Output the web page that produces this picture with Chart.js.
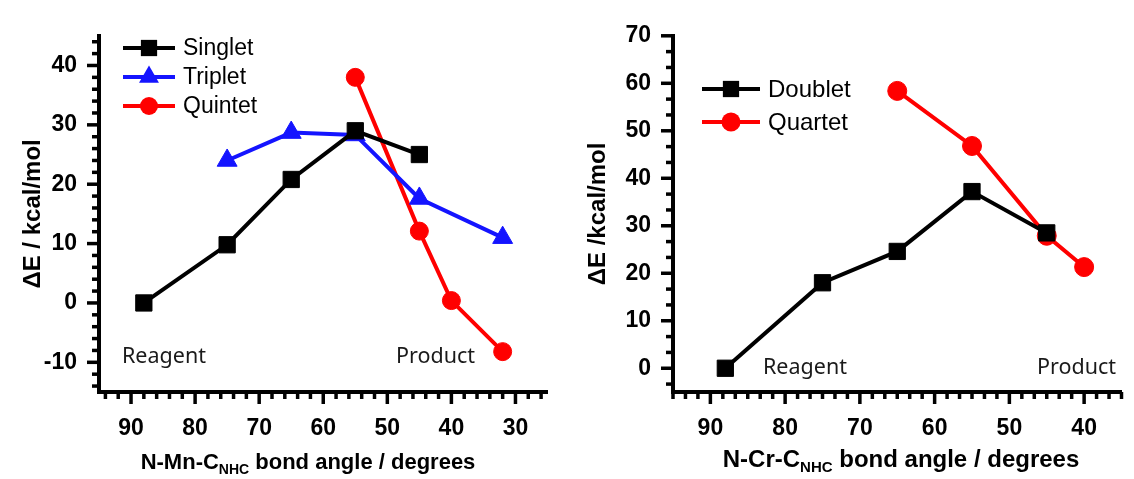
<!DOCTYPE html>
<html>
<head>
<meta charset="utf-8">
<script src="https://cdn.jsdelivr.net/npm/chart.js@4.4.0/dist/chart.umd.min.js"></script>
<style>
    body { margin: 0; background: #fff; width: 1134px; height: 479px; position: relative; overflow: hidden; font-family: "Liberation Sans", Arial, sans-serif; }
    #wrapL { position: absolute; left: 0; top: 0; width: 560px; height: 479px; }
    #wrapR { position: absolute; left: 560px; top: 0; width: 574px; height: 479px; }
    .xt { position: absolute; font-weight: bold; font-size: 22px; white-space: nowrap; transform: translateX(-50%); color: #000; }
    .xt sub { font-size: 14px; vertical-align: -5px; line-height: 0; }
    .note { position: absolute; font-family: "Noto Sans", sans-serif; font-size: 21.5px; color: #1a1a1a; white-space: nowrap; }
</style>
</head>
<body>
<div id="wrapL"><canvas id="mnChart" width="560" height="479"></canvas></div>
<div id="wrapR"><canvas id="crChart" width="574" height="479"></canvas></div>

<div class="xt" style="left:308px; top:449px;">N-Mn-C<sub>NHC</sub> bond angle / degrees</div>
<div class="xt" style="left:901px; top:445px; font-size:24px;">N-Cr-C<sub style="font-size:15px;">NHC</sub> bond angle / degrees</div>

<div class="note" style="left:122px; top:340px;">Reagent</div>
<div class="note" style="left:396px; top:340px;">Product</div>
<div class="note" style="left:763px; top:351px;">Reagent</div>
<div class="note" style="left:1037px; top:351px;">Product</div>

<script>
// ---------- data : Mn (left panel) ----------
const singletAngle = [88, 75, 65, 55, 45];
const singletE     = [0, 9.8, 20.8, 29.0, 25.0];
const tripletAngle = [75, 65, 55, 45, 32];
const tripletE     = [24.0, 28.7, 28.3, 17.6, 11.0];
const quintetAngle = [55, 45, 40, 32];
const quintetE     = [38.0, 12.1, 0.4, -8.2];

// ---------- data : Cr (right panel) ----------
const doubletAngle = [88, 75, 65, 55, 45];
const doubletE     = [0, 18.0, 24.6, 37.2, 28.5];
const quartetAngle = [65, 55, 45, 40];
const quartetE     = [58.4, 46.8, 27.9, 21.3];

// tick labels
const mnXTicks = [90, 80, 70, 60, 50, 40, 30];
const mnYTicks = [-10, 0, 10, 20, 30, 40];
const crXTicks = [90, 80, 70, 60, 50, 40];
const crYTicks = [0, 10, 20, 30, 40, 50, 60, 70];

function pts(xs, ys) {
    return xs.map((x, i) => ({ x: x, y: ys[i] }));
}

function series(label, xs, ys, color, style, r) {
    return {
        label: label,
        data: pts(xs, ys),
        borderColor: color,
        backgroundColor: color,
        borderWidth: 4,
        pointStyle: style,
        pointRadius: r,
        pointBorderWidth: 1,
        pointBorderColor: color,
        pointBackgroundColor: color,
        tension: 0,
        clip: false
    };
}

function drawMarker(ctx, style, x, y, r, color) {
    ctx.fillStyle = color;
    ctx.beginPath();
    if (style === 'rect') {
        const s = r * Math.SQRT1_2;
        ctx.rect(x - s, y - s, 2 * s, 2 * s);
    } else if (style === 'triangle') {
        ctx.moveTo(x, y - r);
        ctx.lineTo(x + r * Math.sin(2 * Math.PI / 3), y + r * 0.5);
        ctx.lineTo(x - r * Math.sin(2 * Math.PI / 3), y + r * 0.5);
        ctx.closePath();
    } else {
        ctx.arc(x, y, r, 0, Math.PI * 2);
    }
    ctx.fill();
}

// legend drawn inside the plot area
const insideLegend = {
    id: 'insideLegend',
    afterDraw(chart, args, opts) {
        const ctx = chart.ctx;
        ctx.save();
        chart.data.datasets.forEach((ds, i) => {
            const y = opts.y + i * opts.rowGap;
            ctx.strokeStyle = ds.borderColor;
            ctx.lineWidth = 4;
            ctx.beginPath();
            ctx.moveTo(opts.x, y);
            ctx.lineTo(opts.x + opts.lineLen, y);
            ctx.stroke();
            drawMarker(ctx, ds.pointStyle, opts.x + opts.lineLen / 2, y, ds.pointRadius, ds.backgroundColor);
            ctx.fillStyle = '#000';
            ctx.font = opts.font;
            ctx.textBaseline = 'middle';
            ctx.fillText(ds.label, opts.x + opts.lineLen + opts.textGap, y + 1);
        });
        ctx.restore();
    }
};

// major + minor tick marks, outward, taken from the scales
const tickMarks = {
    id: 'tickMarks',
    afterDraw(chart, args, opts) {
        const ctx = chart.ctx;
        const area = chart.chartArea;
        ctx.save();
        ctx.strokeStyle = '#000';
        ctx.lineWidth = 3.5;
        ['x', 'y'].forEach(id => {
            const sc = chart.scales[id];
            const o = opts[id];
            const k0 = Math.ceil(sc.min / o.minor - 1e-6);
            const k1 = Math.floor(sc.max / o.minor + 1e-6);
            for (let k = k0; k <= k1; k++) {
                const v = k * o.minor;
                const isMajor = Math.abs(v / o.major - Math.round(v / o.major)) < 1e-6;
                const len = isMajor ? 12 : 7;
                const p = sc.getPixelForValue(v);
                ctx.beginPath();
                if (id === 'x') {
                    ctx.moveTo(p, area.bottom);
                    ctx.lineTo(p, area.bottom + len);
                } else {
                    ctx.moveTo(area.left, p);
                    ctx.lineTo(area.left - len, p);
                }
                ctx.stroke();
            }
        });
        ctx.restore();
    }
};

function makeOptions(xMin, xMax, yMin, yMax, xTicks, yTicks, yTitle, yWidth, titlePad, pad, legend, minors) {
    return {
        responsive: false,
        animation: false,
        layout: { padding: pad },
        plugins: {
            legend: { display: false },
            tooltip: { enabled: false },
            insideLegend: legend,
            tickMarks: minors
        },
        scales: {
            x: {
                type: 'linear',
                reverse: true,
                min: xMin,
                max: xMax,
                afterFit: s => { s.height = 87; },
                afterBuildTicks: s => { s.ticks = xTicks.map(v => ({ value: v })); },
                grid: { display: false, drawTicks: false },
                border: { display: true, color: '#000', width: 4 },
                ticks: { color: '#000', padding: 23, font: { family: 'Liberation Sans', size: 23, weight: 'bold' } }
            },
            y: {
                type: 'linear',
                min: yMin,
                max: yMax,
                afterFit: s => { s.width = yWidth; },
                afterBuildTicks: s => { s.ticks = yTicks.map(v => ({ value: v })); },
                grid: { display: false, drawTicks: false },
                border: { display: true, color: '#000', width: 4 },
                ticks: { color: '#000', padding: 22, font: { family: 'Liberation Sans', size: 23, weight: 'bold' } },
                title: {
                    display: true,
                    text: yTitle,
                    color: '#000',
                    padding: { top: titlePad, bottom: 0 },
                    font: { family: 'Liberation Sans', size: 24, weight: 'bold' }
                }
            }
        }
    };
}

new Chart(document.getElementById('mnChart'), {
    type: 'line',
    data: {
        datasets: [
            series('Singlet', singletAngle, singletE, '#000000', 'rect', 11.5),
            series('Triplet', tripletAngle, tripletE, '#1414ff', 'triangle', 11.5),
            series('Quintet', quintetAngle, quintetE, '#ff0000', 'circle', 9)
        ]
    },
    options: makeOptions(25, 95, -15, 45, mnXTicks, mnYTicks, 'ΔE / kcal/mol', 99, 19,
        { top: 27, right: 7, bottom: 0, left: 0 },
        { x: 123, y: 48, rowGap: 29, lineLen: 52, textGap: 8, font: '23px "Liberation Sans", Arial' },
        { x: { major: 10, minor: 2 }, y: { major: 10, minor: 2 } }),
    plugins: [insideLegend, tickMarks]
});

new Chart(document.getElementById('crChart'), {
    type: 'line',
    data: {
        datasets: [
            series('Doublet', doubletAngle, doubletE, '#000000', 'rect', 11.5),
            series('Quartet', quartetAngle, quartetE, '#ff0000', 'circle', 9.5)
        ]
    },
    options: makeOptions(35, 95, -5, 70, crXTicks, crYTicks, 'ΔE /kcal/mol', 113, 24,
        { top: 23, right: 2, bottom: 0, left: 0 },
        { x: 142, y: 89, rowGap: 33, lineLen: 58, textGap: 8, font: '24px "Liberation Sans", Arial' },
        { x: { major: 10, minor: 10 / 6 }, y: { major: 10, minor: 10 / 3 } }),
    plugins: [insideLegend, tickMarks]
});
</script>
</body>
</html>
